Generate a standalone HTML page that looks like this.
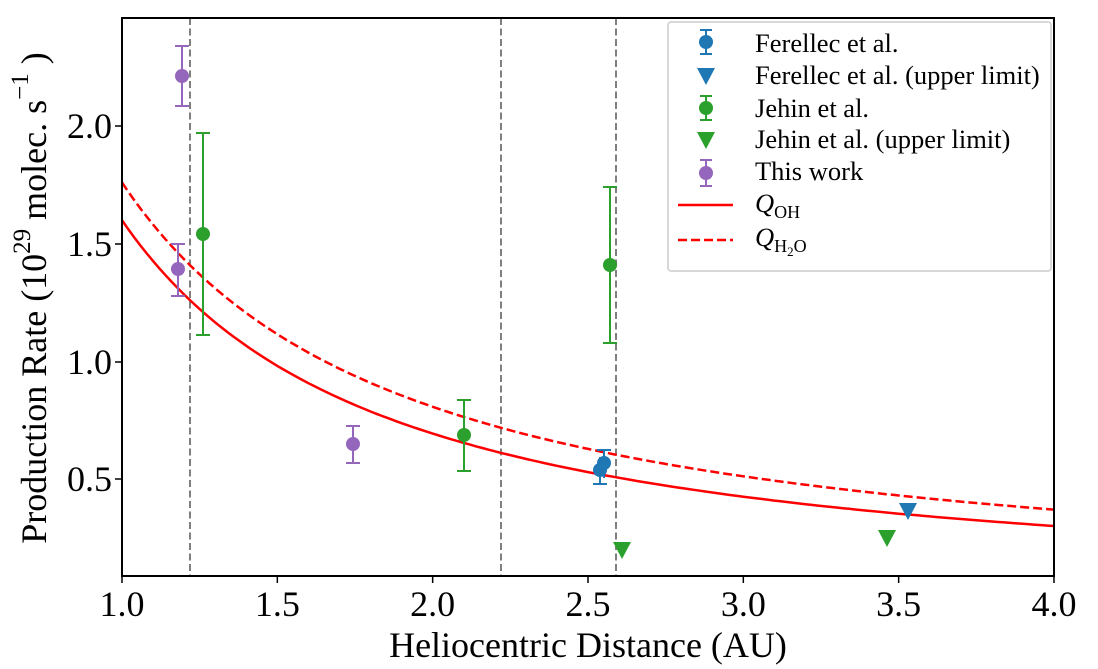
<!DOCTYPE html><html><head><style>body{margin:0;background:#fff}svg{display:block}text{font-family:"Liberation Serif",serif;fill:#000}</style></head><body>
<svg id="s" width="1098" height="669" xmlns="http://www.w3.org/2000/svg">
<g stroke="#7f7f7f" stroke-width="2" stroke-dasharray="7,3.5"><line x1="190" y1="18" x2="190" y2="576"/><line x1="501" y1="18" x2="501" y2="576"/><line x1="616" y1="18" x2="616" y2="576"/></g>
<path id="oh" fill="none" stroke="#ff0000" stroke-width="2.5"/>
<path id="h2o" fill="none" stroke="#ff0000" stroke-width="2.5" stroke-dasharray="9,4"/>
<g stroke-width="2">
<g stroke="#9467bd" fill="#9467bd"><line x1="182" y1="46" x2="182" y2="106"/><line x1="175" y1="46" x2="189" y2="46"/><line x1="175" y1="106" x2="189" y2="106"/><circle cx="182" cy="76" r="7" stroke="none"/>
<line x1="178" y1="244" x2="178" y2="296"/><line x1="171" y1="244" x2="185" y2="244"/><line x1="171" y1="296" x2="185" y2="296"/><circle cx="178" cy="269" r="7" stroke="none"/>
<line x1="353" y1="426" x2="353" y2="463"/><line x1="346" y1="426" x2="360" y2="426"/><line x1="346" y1="463" x2="360" y2="463"/><circle cx="353" cy="444" r="7" stroke="none"/></g>
<g stroke="#2ca02c" fill="#2ca02c"><line x1="203" y1="133" x2="203" y2="335"/><line x1="196" y1="133" x2="210" y2="133"/><line x1="196" y1="335" x2="210" y2="335"/><circle cx="203" cy="234" r="7" stroke="none"/>
<line x1="464" y1="400" x2="464" y2="471"/><line x1="457" y1="400" x2="471" y2="400"/><line x1="457" y1="471" x2="471" y2="471"/><circle cx="464" cy="435" r="7" stroke="none"/>
<line x1="610" y1="187" x2="610" y2="343"/><line x1="603" y1="187" x2="617" y2="187"/><line x1="603" y1="343" x2="617" y2="343"/><circle cx="610" cy="265" r="7" stroke="none"/>
<polygon points="613,542 631,542 622,559" stroke="none"/><polygon points="878,530 896,530 887,547" stroke="none"/></g>
<g stroke="#1f77b4" fill="#1f77b4"><line x1="600" y1="457" x2="600" y2="484"/><line x1="593" y1="484" x2="607" y2="484"/><line x1="604" y1="450" x2="604" y2="478"/><line x1="597" y1="450" x2="611" y2="450"/><circle cx="600" cy="470" r="7" stroke="none"/><circle cx="604" cy="463" r="7" stroke="none"/>
<polygon points="899,503 917,503 908,520" stroke="none"/></g>
</g>
<rect x="122" y="18" width="932" height="558" fill="none" stroke="#000" stroke-width="2"/>
<g stroke="#000" stroke-width="1.5" id="ticks"></g>
<g font-size="36" text-anchor="middle" id="xl"></g>
<g font-size="36" text-anchor="end"><text x="112" y="491">0.5</text><text x="112" y="374">1.0</text><text x="112" y="256">1.5</text><text x="112" y="138">2.0</text></g>
<text x="588" y="657" font-size="36" text-anchor="middle">Heliocentric Distance (AU)</text>
<text transform="translate(46,298) rotate(-90)" font-size="36" text-anchor="middle">Production Rate (10<tspan dy="-16" font-size="25">29</tspan><tspan dy="16"> molec. s</tspan><tspan dy="-18" font-size="25">−1</tspan><tspan dy="18"> )</tspan></text>
<rect x="668" y="22" width="383" height="249" rx="3" fill="#fff" fill-opacity="0.8" stroke="#ccc" stroke-width="1.5"/>
<g font-size="26.5">
<text x="755" y="52">Ferellec et al.</text><text x="755" y="84">Ferellec et al. (upper limit)</text><text x="755" y="117">Jehin et al.</text><text x="755" y="148">Jehin et al. (upper limit)</text><text x="755" y="180">This work</text>
<text x="755" y="212" font-style="italic">Q<tspan font-style="normal" font-size="18" dy="6">OH</tspan></text>
<text x="755" y="246" font-style="italic">Q<tspan font-style="normal" font-size="18" dy="6">H<tspan font-size="13" dy="4">2</tspan><tspan dy="-4">O</tspan></tspan></text>
</g>
<g stroke-width="2">
<g stroke="#1f77b4" fill="#1f77b4"><line x1="706" y1="30" x2="706" y2="54"/><line x1="700" y1="30" x2="712" y2="30"/><line x1="700" y1="54" x2="712" y2="54"/><circle cx="706" cy="42" r="7" stroke="none"/><polygon points="697,68 715,68 706,85" stroke="none"/></g>
<g stroke="#2ca02c" fill="#2ca02c"><line x1="706" y1="96" x2="706" y2="120"/><line x1="700" y1="96" x2="712" y2="96"/><line x1="700" y1="120" x2="712" y2="120"/><circle cx="706" cy="108" r="7" stroke="none"/><polygon points="697,132 715,132 706,149" stroke="none"/></g>
<g stroke="#9467bd" fill="#9467bd"><line x1="706" y1="160" x2="706" y2="186"/><line x1="700" y1="160" x2="712" y2="160"/><line x1="700" y1="186" x2="712" y2="186"/><circle cx="706" cy="173" r="7" stroke="none"/></g>
<line x1="678" y1="205" x2="733" y2="205" stroke="#f00" stroke-width="2.5"/>
<line x1="678" y1="240" x2="733" y2="240" stroke="#f00" stroke-width="2.5" stroke-dasharray="9,4"/>
</g>
</svg>
<script>
function X(r){return 122+(r-1)*310.67}function Y(v){return 479-(v-0.5)*235.3}
function p(a,n){let d="";for(let r=1;r<=4.0001;r+=0.02){d+=(d?"L":"M")+X(r).toFixed(1)+","+Y(a*Math.pow(r,-n)).toFixed(1)}return d}
document.getElementById("oh").setAttribute("d",p(1.6,1.207));
document.getElementById("h2o").setAttribute("d",p(1.76,1.125));
let t="",l="";for(let k=0;k<7;k++){let x=122+155.33*k;t+=`<line x1="${x}" y1="576" x2="${x}" y2="583"/>`;l+=`<text x="${x}" y="616">${(1+k*0.5).toFixed(1)}</text>`}
[479,362,244,126].forEach(y=>t+=`<line x1="115" y1="${y}" x2="122" y2="${y}"/>`);
document.getElementById("ticks").innerHTML=t;document.getElementById("xl").innerHTML=l;
</script>
</body></html>
